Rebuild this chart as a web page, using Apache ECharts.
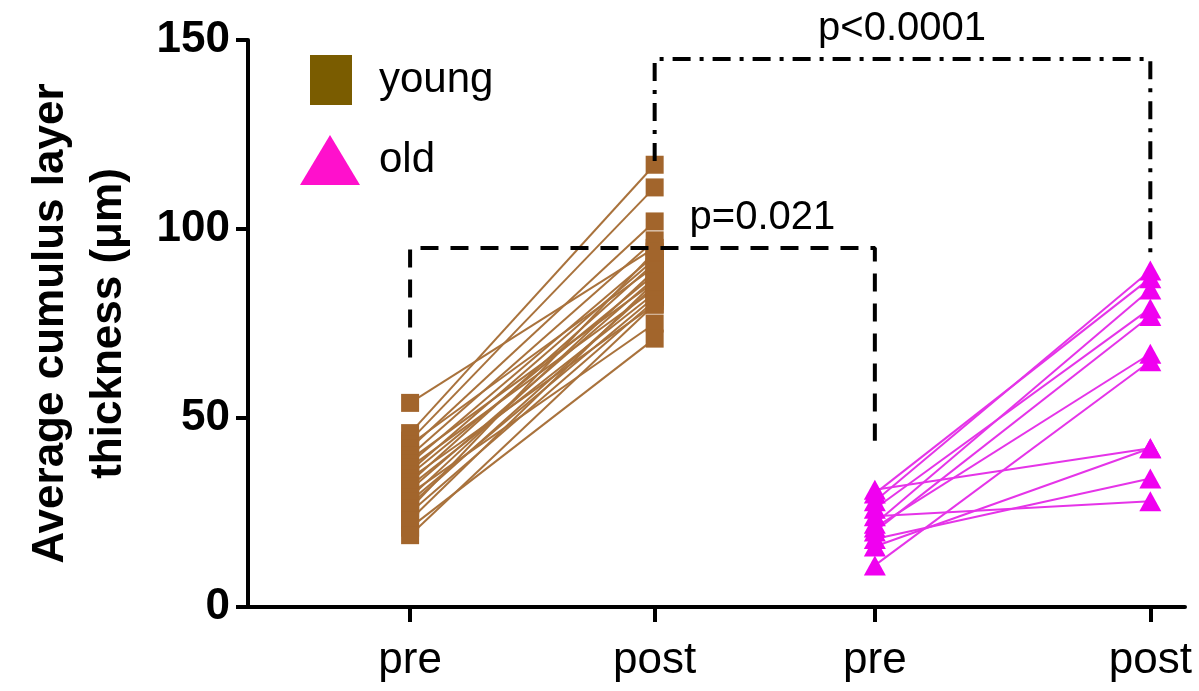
<!DOCTYPE html>
<html>
<head>
<meta charset="utf-8">
<script src="https://cdn.jsdelivr.net/npm/echarts@6/dist/echarts.min.js"></script>
<style>html,body{margin:0;padding:0;background:#fff}#c{width:1199px;height:691px}</style>
</head>
<body>
<div id="c"></div>
<script>
// ---- data ----
var xLabels = ['pre', 'post', 'pre', 'post'];
var xPositions = [17.3, 43.4, 66.9, 96.3];
var yTicks = [0, 50, 100, 150];

var youngPre  = [54, 46, 44, 43, 42, 40, 39, 38, 37, 36, 35, 34, 33, 32, 31, 30, 29, 28, 27, 26, 25, 23, 21, 19];
var youngPost = [95, 117, 111, 90, 102, 97, 86, 93, 84, 92, 88, 80, 91, 83, 87, 75, 89, 82, 85, 94, 81, 86, 71, 80];

var oldPre  = [28, 30, 22, 26, 20, 21, 11, 31, 16, 18, 24];
var oldPost = [89, 87, 84, 79, 77, 67, 65, 42, 42, 34, 28];

// significance brackets [category index, value]
var bracketYoungPreOldPre = [[0, 66], [0, 95], [2, 95], [2, 44]];
var bracketYoungPostOldPost = [[1, 118], [1, 145], [3, 145], [3, 93]];
var pLabels = [
  {text: 'p=0.021', x: 54.9, y: 103},
  {text: 'p<0.0001', x: 69.8, y: 153}
];

// ---- chart ----
var FONT = '"Liberation Sans", Arial, sans-serif';
var chart = echarts.init(document.getElementById('c'));
var series = [];

function pairSeries(name, pre, post, i0, i1, sym, size, markColor, lineColor) {
  for (var i = 0; i < pre.length; i++) {
    series.push({
      name: name, type: 'line', silent: true, animation: false,
      symbol: sym, symbolSize: size,
      itemStyle: {color: markColor},
      lineStyle: {color: lineColor, width: 2},
      data: [[xPositions[i0], pre[i]], [xPositions[i1], post[i]]],
      z: 3
    });
  }
}
pairSeries('young', youngPre, youngPost, 0, 1, 'rect', 18, '#A2652C', '#A9723C');
pairSeries('old', oldPre, oldPost, 2, 3, 'triangle', [22, 20], '#F000F0', '#E534E8');

function bracket(pts, dash) {
  series.push({
    type: 'line', silent: true, animation: false, symbol: 'none', z: 4,
    lineStyle: {color: '#000', width: 4, type: dash},
    data: pts.map(function (p) { return [xPositions[p[0]], p[1]]; })
  });
}
bracket(bracketYoungPreOldPre, [18, 12]);
bracket(bracketYoungPostOldPost, [18, 9, 4, 9]);

series.push({
  type: 'scatter', silent: true, animation: false, clip: false, symbolSize: 0,
  itemStyle: {opacity: 1},
  data: pLabels.map(function (p) { return {value: [p.x, p.y], name: p.text}; }),
  label: {show: true, position: 'inside', formatter: '{b}', color: '#000', opacity: 1,
          fontFamily: FONT, fontSize: 40}
});

chart.setOption({
  animation: false,
  backgroundColor: '#fff',
  grid: {left: 248, right: 14, top: 40, bottom: 84, containLabel: false, outerBoundsMode: 'none'},
  legend: [
    {data: [{name: 'young', icon: 'rect', itemStyle: {color: '#7A5C00'}}],
     left: 305, top: 50, itemWidth: 42, itemHeight: 50, selectedMode: false,
     textStyle: {fontFamily: FONT, fontSize: 42, color: '#000', padding: [0, 0, 0, 22]}},
    {data: [{name: 'old', icon: 'triangle', itemStyle: {color: '#FF10CC'}}],
     left: 295, top: 130, itemWidth: 60, itemHeight: 50, selectedMode: false,
     textStyle: {fontFamily: FONT, fontSize: 42, color: '#000', padding: [0, 0, 0, 14]}}
  ],
  xAxis: {
    type: 'value', min: 0, max: 100,
    axisLine: {show: true, lineStyle: {color: '#000', width: 4}},
    axisTick: {show: true, customValues: xPositions, length: 15, lineStyle: {color: '#000', width: 4}},
    axisLabel: {
      customValues: xPositions, margin: 32, color: '#000', fontFamily: FONT, fontSize: 44,
      formatter: function (v) {
        var i = xPositions.indexOf(v);
        return i >= 0 ? xLabels[i] : '';
      }
    },
    splitLine: {show: false}
  },
  yAxis: {
    type: 'value', min: 0, max: 150, interval: 50,
    name: 'Average cumulus layer\nthickness (μm)',
    nameLocation: 'middle', nameRotate: 90, nameGap: 110,
    nameTextStyle: {fontFamily: FONT, fontSize: 44, fontWeight: 'bold', color: '#000', lineHeight: 58},
    axisLine: {show: true, lineStyle: {color: '#000', width: 4}},
    axisTick: {show: true, length: 12, lineStyle: {color: '#000', width: 4}},
    axisLabel: {
      customValues: yTicks, margin: 18, color: '#000', fontFamily: FONT, fontSize: 44, fontWeight: 'bold'
    },
    splitLine: {show: false}
  },
  series: series
});
</script>
</body>
</html>
